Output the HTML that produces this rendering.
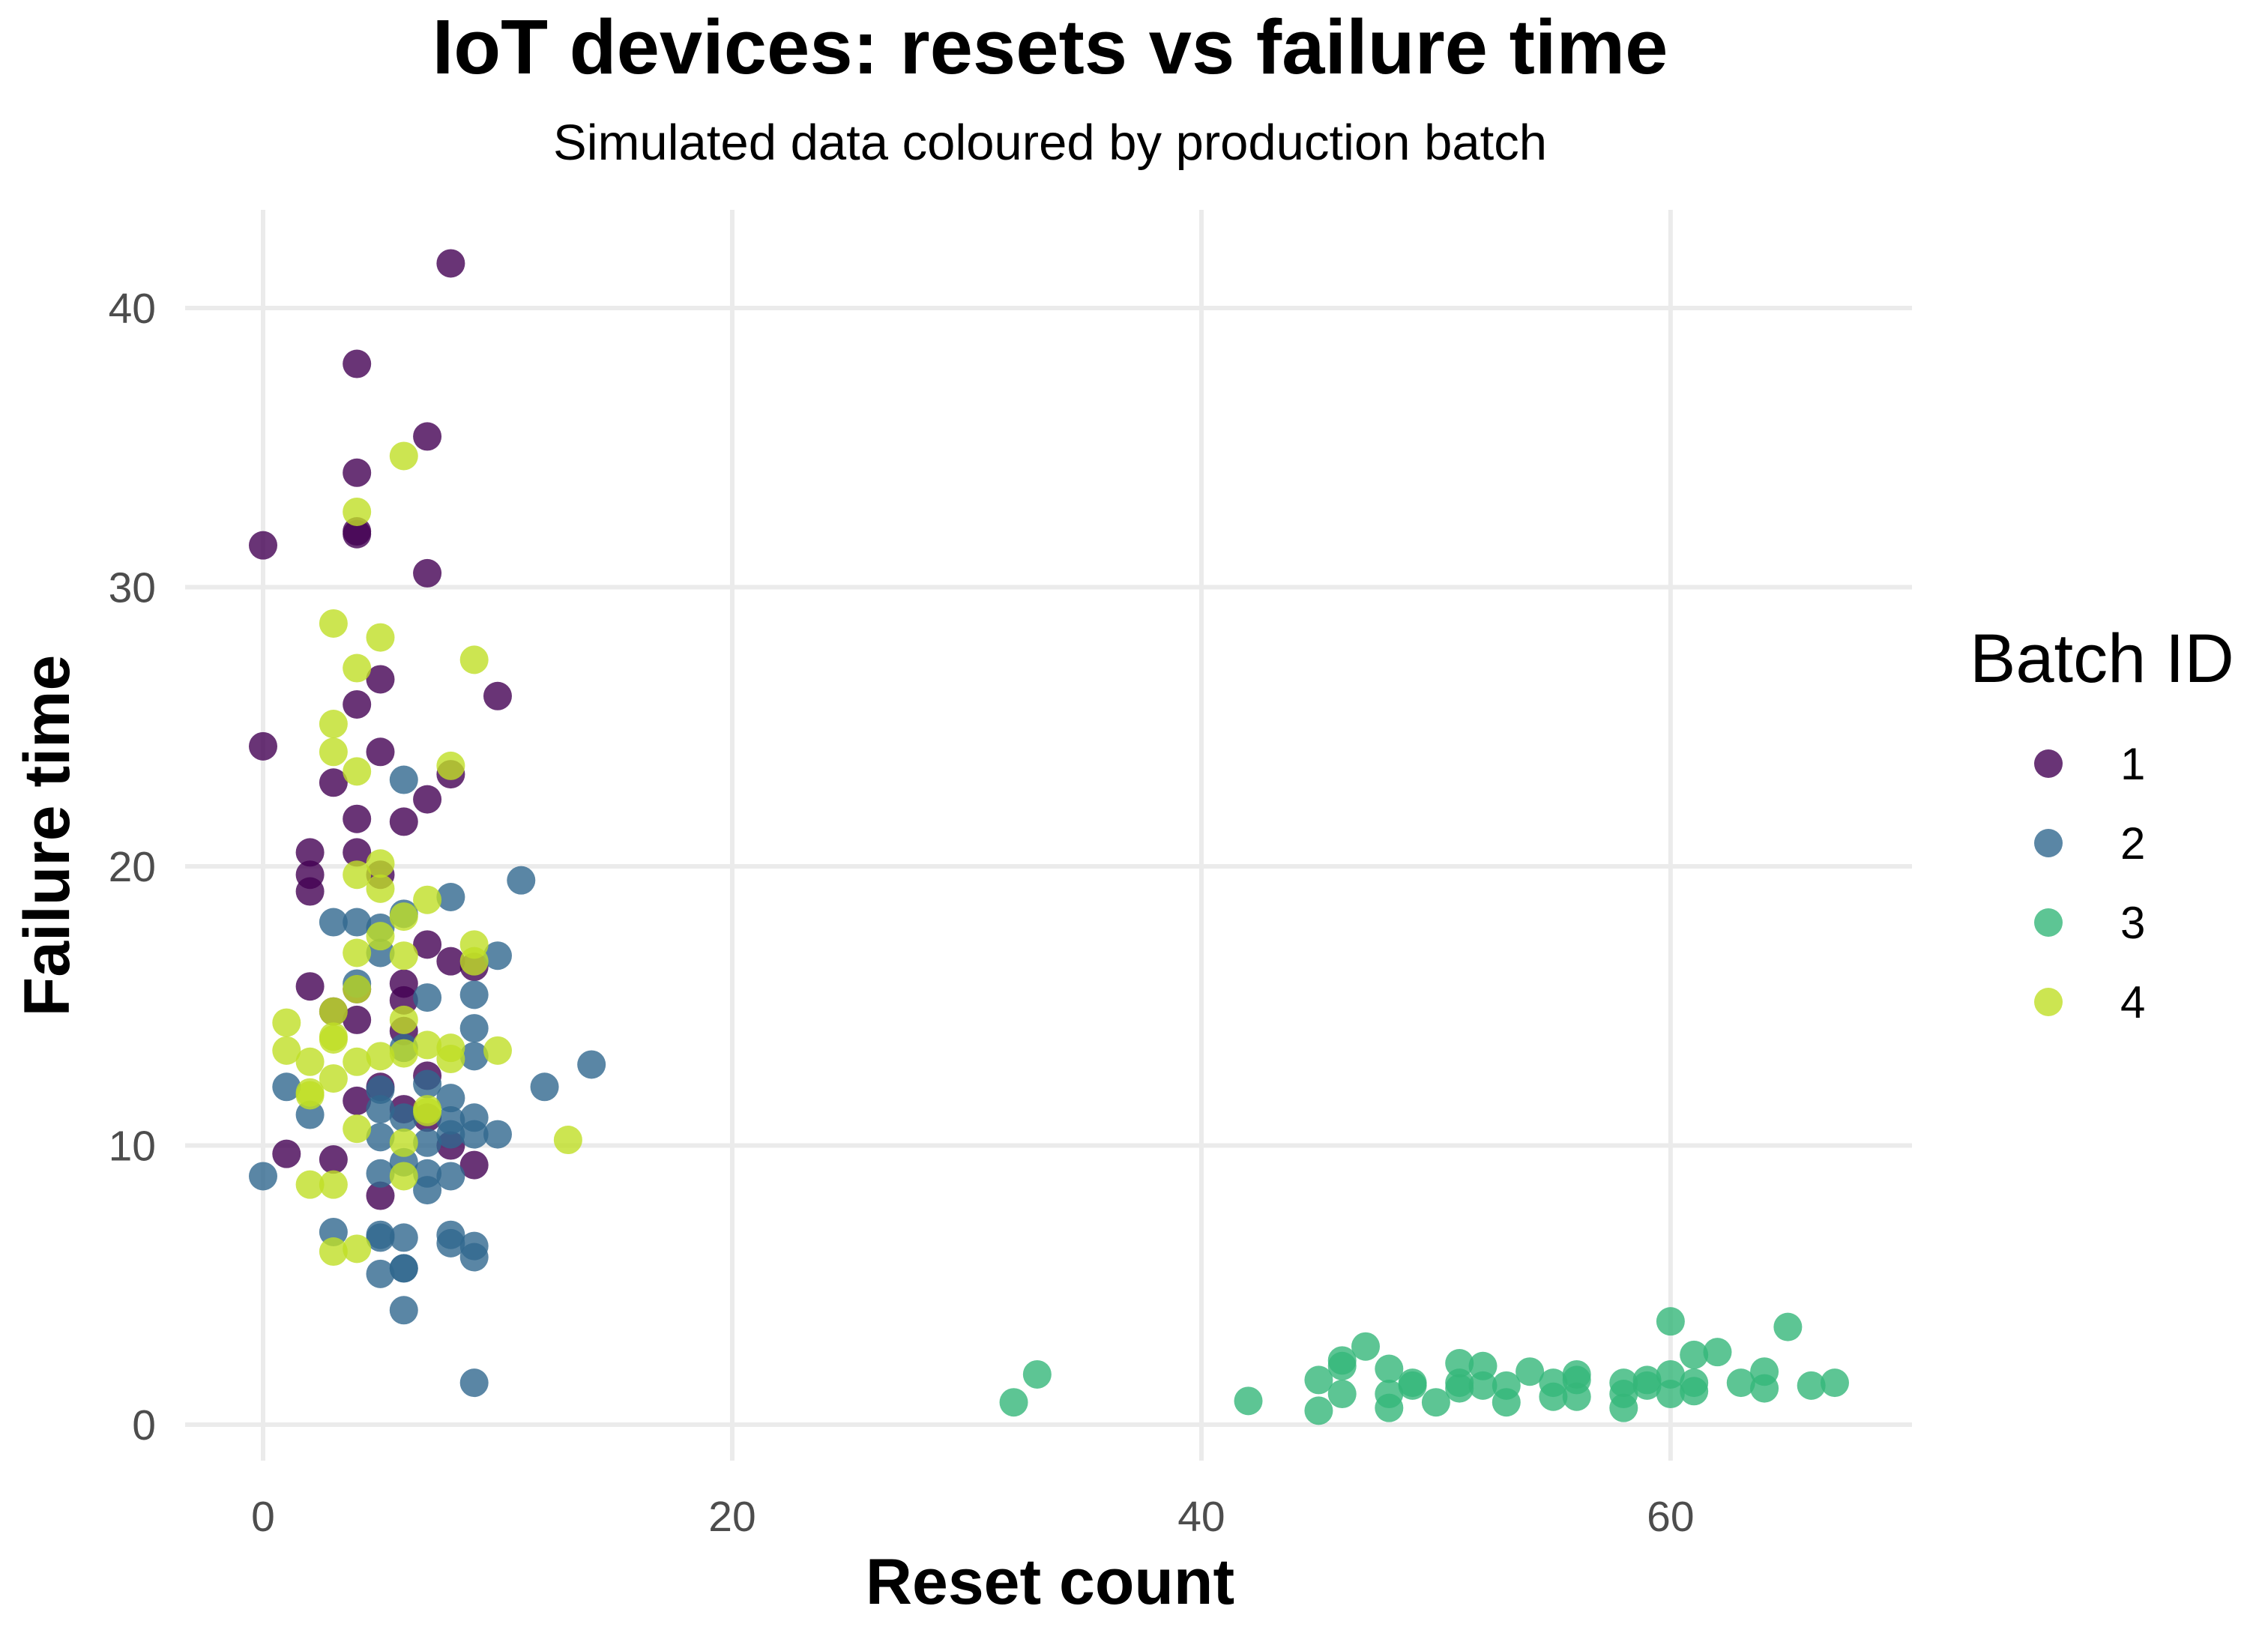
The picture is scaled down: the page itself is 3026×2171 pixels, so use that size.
<!DOCTYPE html>
<html><head><meta charset="utf-8"><style>
body{margin:0;background:#fff}
svg{display:block;font-family:"Liberation Sans",Arial,sans-serif}
</style></head><body>
<svg id="chart" width="3026" height="2171" viewBox="0 0 3026 2171">
<text x="1401" y="98" font-size="103" font-weight="bold" text-anchor="middle">IoT devices: resets vs failure time</text>
<text x="1401" y="213" font-size="67" text-anchor="middle">Simulated data coloured by production batch</text>
<g id="grid"></g>
<g id="points"></g>
<g id="ticks"></g>
<text x="1401" y="2140" font-size="86" font-weight="bold" text-anchor="middle">Reset count</text>
<text transform="translate(92,1115) rotate(-90)" font-size="86" font-weight="bold" text-anchor="middle">Failure time</text>
<g id="legend">
<text x="2628" y="910" font-size="92">Batch ID</text>
</g>
</svg>
<script>
const xTicks=[0,20,40,60];
const yTicks=[0,10,20,30,40];
const batches=["1","2","3","4"];
const colors=["#440154","#31688E","#35B779","#BFDF25"];
const b1x=[8,4,7,4,4,4,0,7,5,10,4,0,5,3,8,7,4,6,2,4,2,2,5,7,8,9,2,6,4,6,3,4,6,7,5,4,6,7,8,1,3,9,5];
const b1y=[41.6,38,35.4,34.1,32,31.9,31.5,30.5,26.7,26.1,25.8,24.3,24.1,23,23.3,22.4,21.7,21.6,20.5,20.5,19.7,19.1,19.7,17.2,16.6,16.4,15.7,15.8,15.6,15.2,14.8,14.5,14.1,12.5,12.1,11.6,11.3,11,10,9.7,9.5,9.3,8.2];
const b2x=[6,11,8,3,4,5,6,10,5,7,9,4,9,6,9,14,1,12,5,7,8,2,5,6,9,8,10,5,7,8,9,0,5,7,8,6,7,3,5,5,6,8,8,9,9,5,6,6,6,9];
const b2y=[23.1,19.5,18.9,18,18,17.8,18.3,16.8,16.9,15.3,15.4,15.8,14.2,13.5,13.2,12.9,12.1,12.1,12,12.2,11.7,11.1,11.3,11,11,10.9,10.4,10.3,10.1,10.4,10.4,8.9,9,9,8.9,9.4,8.4,6.9,6.8,6.7,6.7,6.8,6.5,6.4,6,5.4,5.6,5.6,4.1,1.5];
const b3x=[32,33,42,45,45,46,46,46,47,48,48,48,49,49,50,51,51,51,52,52,53,53,54,55,55,56,56,56,58,58,58,59,59,60,60,60,61,61,61,62,63,64,64,65,66,67];
const b3y=[0.8,1.8,0.85,0.5,1.6,2.1,1.1,2.3,2.8,2.0,1.1,0.6,1.5,1.4,0.8,2.2,1.5,1.3,2.1,1.4,1.4,0.8,1.9,1.5,1.0,1.8,1.6,1.0,1.5,1.1,0.6,1.6,1.4,3.7,1.8,1.1,2.5,1.5,1.2,2.6,1.5,1.9,1.3,3.5,1.4,1.5];
const b4x=[6,4,3,5,4,9,3,3,8,4,5,4,5,7,6,5,9,4,6,9,4,1,3,6,3,1,7,8,10,2,3,4,5,6,8,3,2,2,7,7,4,6,13,2,3,6,3,4];
const b4y=[34.7,32.7,28.7,28.2,27.1,27.4,25.1,24.1,23.6,23.4,20.1,19.7,19.2,18.8,18.2,17.5,17.2,16.9,16.8,16.6,15.6,14.4,14.8,14.5,13.8,13.4,13.6,13.5,13.4,13,13.9,13,13.2,13.3,13.1,12.4,11.9,11.8,11.2,11.3,10.6,10.1,10.2,8.6,8.6,8.9,6.2,6.3];
const seriesX=[b1x,b2x,b3x,b4x], seriesY=[b1y,b2y,b3y,b4y];
const NS="http://www.w3.org/2000/svg";
const L=247,R=2551,T=280,B=1949;
const sx=v=>351+v*(1155-182)/60*1.93;
const sy=v=>1901-v*(985-213)/40*1.93;
function mk(tag,attrs,parent){const e=document.createElementNS(NS,tag);for(const k in attrs)e.setAttribute(k,attrs[k]);parent.appendChild(e);return e;}
const grid=document.getElementById('grid'),ticks=document.getElementById('ticks');
xTicks.forEach(v=>{
 const l=mk('line',{x1:sx(v),x2:sx(v),y1:T,y2:B,stroke:'#EBEBEB','stroke-width':6},grid);
 
 
 const t=mk('text',{x:sx(v),y:2043,'font-size':57,fill:'#4D4D4D','text-anchor':'middle'},ticks);
 t.textContent=v;
 
 
});
yTicks.forEach(v=>{
 const l=mk('line',{x1:L,x2:R,y1:sy(v),y2:sy(v),stroke:'#EBEBEB','stroke-width':6},grid);
 
 
 const t=mk('text',{x:208,y:sy(v)+20,'font-size':57,fill:'#4D4D4D','text-anchor':'end'},ticks);
 t.textContent=v;
 
 
});
const pts=document.getElementById('points');
seriesX.forEach((xs,i)=>{xs.forEach((x,j)=>{
 const c=mk('circle',{cx:sx(x),cy:sy(seriesY[i][j]),r:19,fill:colors[i],'fill-opacity':0.8},pts);
 
 
});});
const lg=document.getElementById('legend');
batches.forEach((b,i)=>{
 const y=1019+i*106;
 const c=mk('circle',{cx:2733,cy:y,r:19,fill:colors[i],'fill-opacity':0.8},lg);
 
 
 const t=mk('text',{x:2829,y:y+21,'font-size':60},lg);
 t.textContent=b;
 
 
});
</script>
</body></html>
